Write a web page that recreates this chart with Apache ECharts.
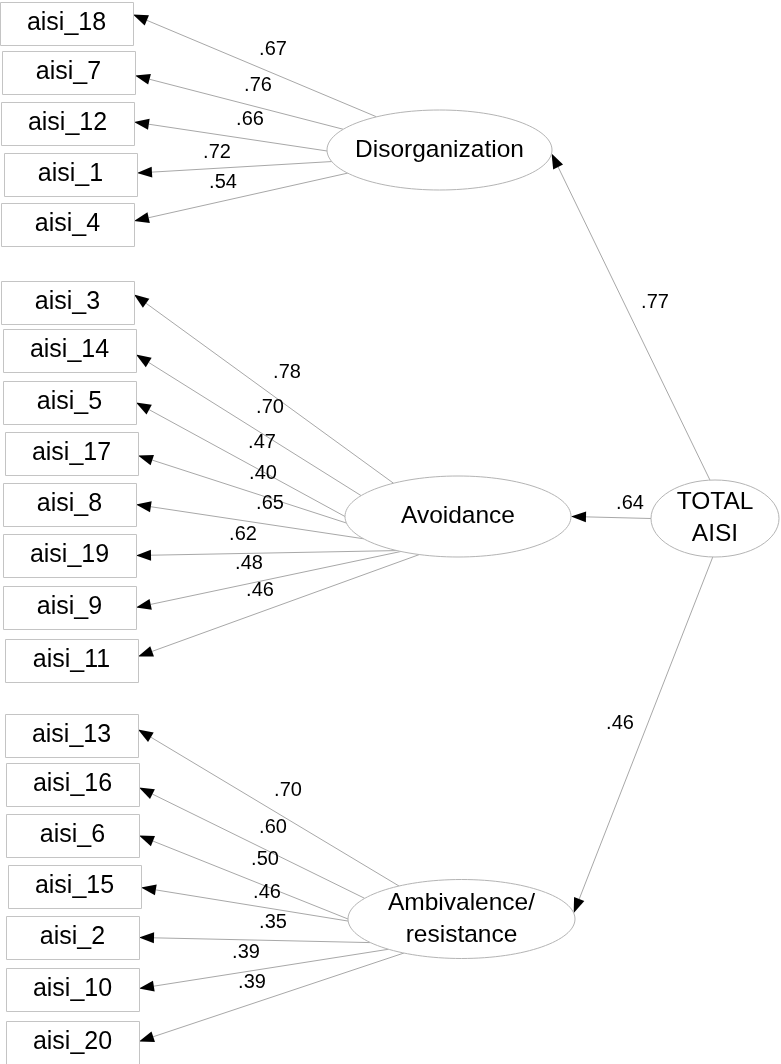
<!DOCTYPE html>
<html><head><meta charset="utf-8">
<script src="https://cdn.jsdelivr.net/npm/echarts@6/dist/echarts.min.js"></script>
<style>html,body{margin:0;padding:0;background:#fff}#main{width:781px;height:1064px}</style>
</head><body><div id="main"></div>
<script>
// ---------------- DATA ----------------
const factorNames = ['Disorganization', 'Avoidance', 'Ambivalence/\nresistance'];
const higherName = 'TOTAL\nAISI';
const disorgItems = ['aisi_18', 'aisi_7', 'aisi_12', 'aisi_1', 'aisi_4'];
const disorgLoadings = [0.67, 0.76, 0.66, 0.72, 0.54];
const avoidItems = ['aisi_3', 'aisi_14', 'aisi_5', 'aisi_17', 'aisi_8', 'aisi_19', 'aisi_9', 'aisi_11'];
const avoidLoadings = [0.78, 0.70, 0.47, 0.40, 0.65, 0.62, 0.48, 0.46];
const ambivItems = ['aisi_13', 'aisi_16', 'aisi_6', 'aisi_15', 'aisi_2', 'aisi_10', 'aisi_20'];
const ambivLoadings = [0.70, 0.60, 0.50, 0.46, 0.35, 0.39, 0.39];
const higherLoadings = [0.77, 0.64, 0.46];

// ---------------- LAYOUT (separate from data) ----------------
const W = 781, H = 1064;
const BOX_W = 133, BOX_H = 43;
const boxLeft = [[0, 2, 1, 4, 1], [1, 3, 3, 5, 3, 3, 3, 5], [5, 6, 6, 8, 6, 6, 6]];
const boxTop = [[2, 51, 102, 153, 203], [281, 329, 381, 432, 483, 534, 586, 639], [714, 763, 814, 865, 916, 968, 1021]];
const tipDy = [[-9, 3, -1.5, -1.5, -3.5], [-8, 4, 0, 2, 0, 0, 0, -4], [-6, 3, 0, 1, 0, -1, -1]];
const factorEllipse = [[439.5, 150, 112.5, 40], [458, 516.5, 113, 40.5], [461.5, 919, 113.5, 39.5]];
const higherEllipse = [715, 518.5, 64, 38.5];
const startAngle = [
  [-124, -148.8, 178.6, 163.2, 144.7],
  [-124.8, -149, 180, 170.7, 146.6, 122.7, 120.3, 110],
  [-123.4, -148.5, 180, 177, 143.3, 130, 120.5]
];
const labelPos = [
  [[273, 49], [258, 85], [250, 119], [217, 152], [223, 182]],
  [[287, 372], [270, 407], [262, 442], [263, 473], [270, 503], [243, 534], [249, 563], [260, 590]],
  [[288, 790], [273, 827], [265, 859], [267, 892], [273, 922], [246, 952], [252, 982]]
];
const higherStartAngle = [-94.5, 180, 92];
const higherTipAngle = [5, 0, -8.6];
const higherLabelPos = [[655, 302], [630, 503], [620, 723]];

const FONT = '"Liberation Sans", Arial, sans-serif';
const LINE_COLOR = '#a8a8a8';
const BOX_COLOR = '#c4c4c4';
const ELL_COLOR = '#b4b4b4';

// ---------------- BUILD ----------------
const groups = [
  { items: disorgItems, loadings: disorgLoadings },
  { items: avoidItems, loadings: avoidLoadings },
  { items: ambivItems, loadings: ambivLoadings }
];
function onEllipse(e, deg) {
  const a = deg * Math.PI / 180;
  return [e[0] + e[2] * Math.cos(a), e[1] + e[3] * Math.sin(a)];
}
function fmt(v) { return v.toFixed(2).replace(/^0/, ''); }

const boxData = [];
const edgeData = [];
groups.forEach((g, gi) => {
  g.items.forEach((name, i) => {
    const x = boxLeft[gi][i], y = boxTop[gi][i];
    boxData.push({ value: [x, y, x + BOX_W, y + BOX_H], name: name });
    const s = onEllipse(factorEllipse[gi], startAngle[gi][i]);
    const t = [x + BOX_W, y + BOX_H / 2 + tipDy[gi][i]];
    edgeData.push({ value: [s[0], s[1], t[0], t[1], labelPos[gi][i][0], labelPos[gi][i][1]], label: fmt(g.loadings[i]) });
  });
});
higherLoadings.forEach((v, i) => {
  const s = onEllipse(higherEllipse, higherStartAngle[i]);
  const t = onEllipse(factorEllipse[i], higherTipAngle[i]);
  edgeData.push({ value: [s[0], s[1], t[0], t[1], higherLabelPos[i][0], higherLabelPos[i][1]], label: fmt(v) });
});
const ellData = factorNames.map((n, i) => ({ value: factorEllipse[i].slice(), name: n }));
ellData.push({ value: higherEllipse.slice(), name: higherName });

const chart = echarts.init(document.getElementById('main'));
chart.setOption({
  animation: false,
  backgroundColor: '#fff',
  grid: { left: 0, right: 0, top: 0, bottom: 0 },
  xAxis: { type: 'value', min: 0, max: W, show: false },
  yAxis: { type: 'value', min: 0, max: H, inverse: true, show: false },
  series: [
    {
      type: 'custom', coordinateSystem: 'cartesian2d', clip: false, silent: true, z: 1,
      data: edgeData,
      renderItem: function (params, api) {
        const d = edgeData[params.dataIndex];
        const p1 = api.coord([api.value(0), api.value(1)]);
        const p2 = api.coord([api.value(2), api.value(3)]);
        const lp = api.coord([api.value(4), api.value(5)]);
        const dx = p2[0] - p1[0], dy = p2[1] - p1[1];
        const len = Math.hypot(dx, dy), ux = dx / len, uy = dy / len;
        const L = 15, HW = 5.5;
        const bx = p2[0] - ux * L, by = p2[1] - uy * L;
        return {
          type: 'group', children: [
            { type: 'line', shape: { x1: p1[0], y1: p1[1], x2: bx, y2: by }, style: { stroke: LINE_COLOR, lineWidth: 1 } },
            { type: 'polygon', shape: { points: [[p2[0], p2[1]], [bx - uy * HW, by + ux * HW], [bx + uy * HW, by - ux * HW]] }, style: { fill: '#000' } },
            { type: 'text', x: lp[0], y: lp[1], style: { text: d.label, font: '20px ' + FONT, fill: '#000', align: 'center', verticalAlign: 'middle' } }
          ]
        };
      }
    },
    {
      type: 'custom', coordinateSystem: 'cartesian2d', clip: false, silent: true, z: 2,
      data: boxData,
      renderItem: function (params, api) {
        const a = api.coord([api.value(0), api.value(1)]);
        const b = api.coord([api.value(2), api.value(3)]);
        return {
          type: 'group', children: [
            { type: 'rect', shape: { x: a[0] + 0.5, y: a[1] + 0.5, width: b[0] - a[0], height: b[1] - a[1] }, style: { fill: '#fff', stroke: BOX_COLOR, lineWidth: 1 } },
            { type: 'text', x: (a[0] + b[0]) / 2, y: (a[1] + b[1]) / 2, style: { text: boxData[params.dataIndex].name, font: '25px ' + FONT, fill: '#000', align: 'center', verticalAlign: 'middle' } }
          ]
        };
      }
    },
    {
      type: 'custom', coordinateSystem: 'cartesian2d', clip: false, silent: true, z: 3,
      data: ellData,
      renderItem: function (params, api) {
        const c = api.coord([api.value(0), api.value(1)]);
        const r = api.coord([api.value(0) + api.value(2), api.value(1) + api.value(3)]);
        return {
          type: 'group', children: [
            { type: 'ellipse', shape: { cx: c[0], cy: c[1], rx: r[0] - c[0], ry: r[1] - c[1] }, style: { fill: '#fff', stroke: ELL_COLOR, lineWidth: 1 } },
            { type: 'text', x: c[0], y: c[1], style: { text: ellData[params.dataIndex].name, font: '24.5px ' + FONT, lineHeight: 32, fill: '#000', align: 'center', verticalAlign: 'middle' } }
          ]
        };
      }
    }
  ]
});
</script>
</body></html>
